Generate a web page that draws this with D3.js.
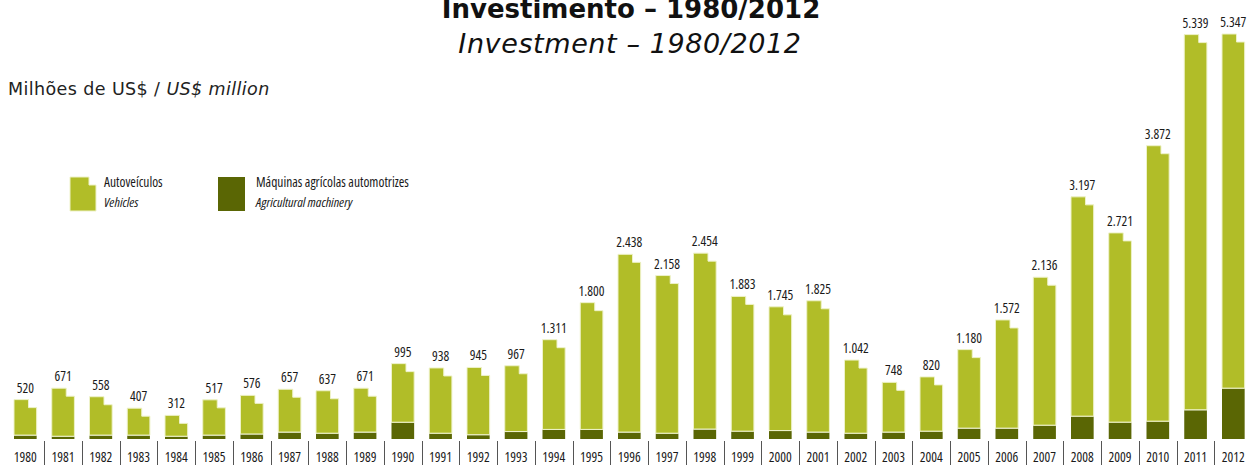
<!DOCTYPE html>
<html>
<head>
<meta charset="utf-8">
<script src="https://cdn.jsdelivr.net/npm/d3@7"></script>
<style>
  html, body { margin: 0; padding: 0; background: #fff; }
  svg { display: block; }
  .small { font-family: "Open Sans", sans-serif; font-stretch: 80%; font-size: 13.5px; fill: #1a1a1a; }
</style>
</head>
<body>
<svg id="chart" width="1250" height="465"></svg>
<script>
const years = ["1980","1981","1982","1983","1984","1985","1986","1987","1988","1989","1990","1991","1992","1993","1994","1995","1996","1997","1998","1999","2000","2001","2002","2003","2004","2005","2006","2007","2008","2009","2010","2011","2012"];
const machinery = [45,30,45,45,30,45,60,85,70,85,215,70,50,92,120,120,85,70,125,97,105,85,70,85,97,137,137,176,295,216,229,379,665];
const vehicles = [475,641,513,362,282,472,516,572,567,586,780,868,895,875,1191,1680,2353,2088,2329,1786,1640,1740,972,663,723,1043,1435,1960,2902,2505,3643,4960,4682];
const seriesNames = [["Autoveículos","Vehicles"],["Máquinas agrícolas automotrizes","Agricultural machinery"]];

const colVeh = "#b1bd28", colMac = "#5a6604", edge = "#eef2c8";
const svg = d3.select("#chart");
const base = 439;

const x = d3.scaleBand().domain(years).range([6.45, 1252.2]).paddingInner(0.4).paddingOuter(0.2);
const y = d3.scaleLinear().domain([0, 5347]).range([base, 34]);
const fmt = v => d3.format(",")(v).replace(/,/g, ".");

const data = years.map((yr, i) => ({yr, mac: machinery[i], veh: vehicles[i], tot: machinery[i] + vehicles[i]}));
const bw = x.bandwidth();
const notchW = bw * 0.36, notchH = 8;

// machinery (bottom)
svg.append("g").selectAll("rect").data(data).join("rect")
  .attr("x", d => x(d.yr)).attr("width", bw)
  .attr("y", d => y(d.mac)).attr("height", d => base - y(d.mac))
  .attr("fill", colMac);

// vehicles (top, with notched top)
svg.append("g").selectAll("path").data(data).join("path")
  .attr("d", d => {
    const x0 = x(d.yr), x1 = x0 + bw, xn = x1 - notchW;
    const yb = y(d.mac) - 0.5, yt = y(d.tot);
    return `M${x0},${yb}V${yt}H${xn}V${yt + notchH}H${x1}V${yb}Z`;
  })
  .attr("fill", colVeh).attr("stroke", edge).attr("stroke-width", 1);

// total labels
svg.append("g").selectAll("text").data(data).join("text")
  .attr("class", "small")
  .attr("x", d => x(d.yr) + bw / 2).attr("y", d => y(d.tot) - 7)
  .attr("text-anchor", "middle").text(d => fmt(d.tot));

// x axis: year labels and separators
const ax = svg.append("g").attr("transform", `translate(0,${base})`)
  .call(d3.axisBottom(x).tickSize(0).tickPadding(0));
ax.select(".domain").remove();
ax.selectAll("text").attr("class", "small").attr("dy", null).attr("y", 23).attr("font-size", null).attr("font-family", null);
const step = x.step();
svg.append("g").selectAll("line").data(years.slice(1)).join("line")
  .attr("x1", d => Math.round(x(d) - (step - bw) / 2) + 0.5)
  .attr("x2", d => Math.round(x(d) - (step - bw) / 2) + 0.5)
  .attr("y1", base + 2).attr("y2", 465)
  .attr("stroke", "#555").attr("stroke-width", 1);

// titles
svg.append("text").attr("x", 631).attr("y", 18).attr("text-anchor", "middle")
  .style("font-family", "'DejaVu Sans', sans-serif").style("font-weight", "700").style("font-size", "26px").attr("fill", "#111")
  .text("Investimento – 1980/2012");
svg.append("text").attr("x", 630).attr("y", 53).attr("text-anchor", "middle")
  .style("font-family", "'DejaVu Sans', sans-serif").style("font-style", "italic").style("font-size", "27px")
  .style("letter-spacing", "0.6px").attr("fill", "#111")
  .text("Investment – 1980/2012");
const unit = svg.append("text").attr("x", 8).attr("y", 95)
  .style("font-family", "'DejaVu Sans', sans-serif").style("font-size", "17.5px").style("letter-spacing", "0.4px").attr("fill", "#222");
unit.append("tspan").text("Milhões de US$ / ");
unit.append("tspan").style("font-style", "italic").text("US$ million");

// legend
const lg = svg.append("g");
lg.append("path").attr("d", "M70,177H89V185H96V211H70Z").attr("fill", colVeh).attr("stroke", edge);
lg.append("rect").attr("x", 218).attr("y", 177).attr("width", 27).attr("height", 34).attr("fill", colMac);
[[104, seriesNames[0]], [256, seriesNames[1]]].forEach(([lx, n]) => {
  lg.append("text").attr("class", "small").attr("x", lx).attr("y", 187).text(n[0]);
  lg.append("text").attr("class", "small").attr("x", lx).attr("y", 207).style("font-style", "italic").text(n[1]);
});
</script>
</body>
</html>
